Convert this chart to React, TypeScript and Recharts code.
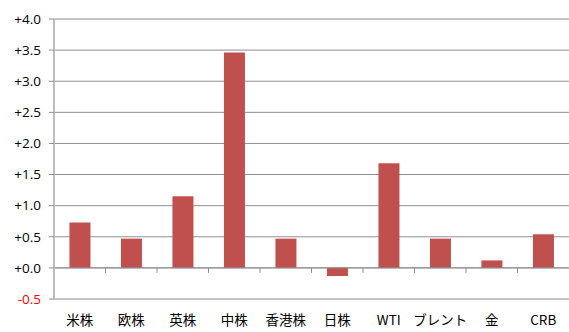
import React from 'react';
import {
  BarChart,
  Bar,
  XAxis,
  YAxis,
  CartesianGrid,
  ReferenceLine,
} from 'recharts';

const categories = ['米株', '欧株', '英株', '中株', '香港株', '日株', 'WTI', 'ブレント', '金', 'CRB'];
const changes = [0.73, 0.47, 1.15, 3.46, 0.47, -0.13, 1.68, 0.47, 0.12, 0.54];
const yTicks = [-0.5, 0, 0.5, 1, 1.5, 2, 2.5, 3, 3.5, 4];

const data = categories.map((name, i) => ({ name, value: changes[i] }));

const fmt = (v: number) => (v < 0 ? '' : '+') + v.toFixed(1);

const YTick = (props: any) => {
  const { x, y, payload } = props;
  const v = payload.value;
  return (
    <text
      x={x - 8}
      y={y}
      dy="0.35em"
      textAnchor="end"
      fontSize={13.5}
      fontFamily="'Open Sans', 'Noto Sans', sans-serif"
      fill={v < 0 ? '#ff0000' : '#000'}
    >
      {fmt(v)}
    </text>
  );
};

const XTick = (props: any) => {
  const { x, y, payload } = props;
  return (
    <text
      x={x}
      y={y + 13}
      dy="0.35em"
      textAnchor="middle"
      fontSize={13.5}
      fontFamily="'Noto Sans CJK JP', 'Noto Sans', sans-serif"
      fill="#000"
    >
      {payload.value}
    </text>
  );
};

// zero line with small ticks at the category boundaries
const ZeroLine = (props: any) => {
  const { x1, y1, x2 } = props;
  const step = (x2 - x1) / categories.length;
  return (
    <g>
      <line x1={x1} y1={y1} x2={x2} y2={y1} stroke="#8c8c8c" />
      {categories.map((_, i) =>
        i === 0 ? null : (
          <line key={i} x1={x1 + step * i} y1={y1} x2={x1 + step * i} y2={y1 + 5} stroke="#8c8c8c" />
        )
      )}
    </g>
  );
};

export default function App() {
  return (
    <div style={{ width: 569, height: 332 }}>
      <style>{'body{margin:0}'}</style>
      <BarChart
        width={569}
        height={332}
        data={data}
        margin={{ top: 19, right: 0, bottom: 3, left: 0 }}
        barCategoryGap="30%"
      >
        <CartesianGrid horizontal vertical={false} stroke="#8f8f8f" />
        <XAxis
          dataKey="name"
          height={30}
          axisLine={{ stroke: '#c4c4c4', strokeWidth: 2 }}
          tickLine={false}
          tick={<XTick />}
          interval={0}
        />
        <YAxis
          domain={[-0.5, 4]}
          ticks={yTicks}
          width={54}
          axisLine={{ stroke: '#bdbdbd', strokeWidth: 2 }}
          tickLine={{ stroke: '#8c8c8c' }}
          tickSize={5}
          tickMargin={0}
          tick={<YTick />}
          interval={0}
        />
        <ReferenceLine y={4} stroke="#c4c4c4" strokeWidth={2} />
        <ReferenceLine y={0} shape={(p: any) => <ZeroLine {...p} />} />
        <Bar dataKey="value" fill="#c0504d" isAnimationActive={false} />
      </BarChart>
    </div>
  );
}
